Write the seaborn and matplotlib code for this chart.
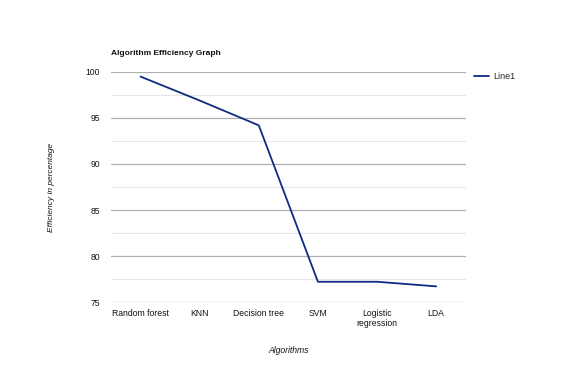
import matplotlib
matplotlib.use("Agg")
import matplotlib.pyplot as plt
import seaborn as sns
import pandas as pd
from matplotlib.ticker import MultipleLocator

categories = ["Random forest", "KNN", "Decision tree", "SVM", "Logistic\nregression", "LDA"]
efficiency = [99.5, 96.9, 94.2, 77.2, 77.2, 76.7]
series_name = "Line1"

sns.set_theme(style="white")
plt.rcParams['font.family'] = ['Liberation Sans', 'DejaVu Sans']

df = pd.DataFrame({"Algorithm": categories, "Efficiency": efficiency, "Series": series_name})

fig = plt.figure(figsize=(5.75, 3.74), dpi=100)
ax = fig.add_axes([0.193, 0.1925, 0.617, 0.615])

sns.lineplot(data=df, x="Algorithm", y="Efficiency", hue="Series", sort=False,
             palette=["#0d2c82"], linewidth=1.3, ax=ax)

ax.set_xlim(-0.5, len(categories) - 0.5)
ax.set_ylim(75, 100)
ax.yaxis.set_major_locator(MultipleLocator(5))
ax.yaxis.set_minor_locator(MultipleLocator(2.5))
ax.grid(axis="y", which="major", color="#b0b0b0", linewidth=0.9)
ax.grid(axis="y", which="minor", color="#e6e6e6", linewidth=0.8)
ax.grid(axis="x", visible=False)
ax.set_axisbelow(True)
for s in ax.spines.values():
    s.set_visible(False)
ax.tick_params(axis="both", which="both", length=0, labelsize=6.2, colors="#111111")
ax.tick_params(axis="y", pad=8)
ax.tick_params(axis="x", pad=5)

ax.set_xlabel("Algorithms", fontsize=6.2, style="italic", labelpad=13, color="#111111")
ax.set_ylabel("Efficiency in percentage", fontsize=6, style="italic", labelpad=22, color="#111111")
ax.set_title("Algorithm Efficiency Graph", fontsize=6, fontweight="bold", loc="left",
             pad=12, color="#111111")

leg = ax.legend(loc="upper left", bbox_to_anchor=(1.0, 1.035), frameon=False,
                fontsize=6.5, handlelength=1.7, handletextpad=0.5)

fig.savefig("out.png", dpi=100)
